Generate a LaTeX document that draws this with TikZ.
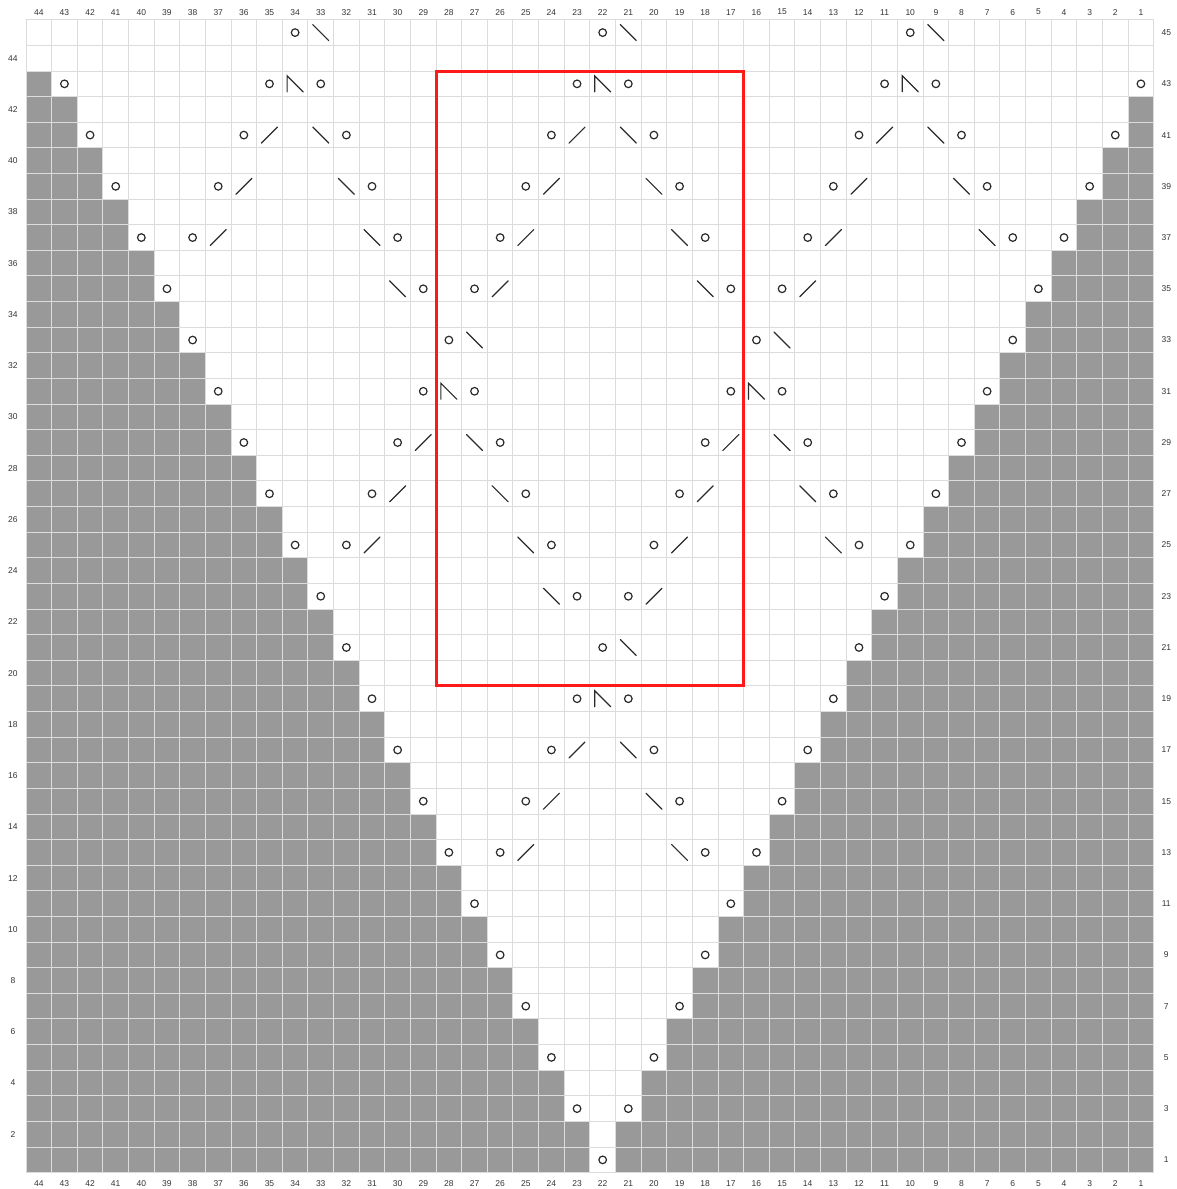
\documentclass[tikz,border=0pt]{standalone}
\usepackage{fontspec}
\setmainfont{Liberation Sans}
\definecolor{cellgray}{HTML}{999999}
\definecolor{gridline}{HTML}{DCDCDC}
\definecolor{ink}{HTML}{2A2A2A}
\definecolor{labelc}{HTML}{333333}
\definecolor{boxred}{HTML}{FF1A1A}
\tikzset{
  yo/.style={circle, draw=ink, line width=1.2pt, minimum size=7.6pt, inner sep=0pt},
  sym/.style={draw=ink, line width=1.2pt, line cap=round},
  lab/.style={text=labelc, font=\fontsize{8.5}{10}\selectfont, inner sep=0pt},
  gridst/.style={draw=gridline, line width=1pt},
  redbox/.style={draw=boxred, line width=3pt}
}
\begin{document}
\begin{tikzpicture}[x=1pt,y=1pt]
\useasboundingbox (0,0) rectangle (1176,1189);
\begin{scope}[shift={(26pt,16.3pt)}, x=25.63pt, y=25.62pt]
  % grey (no stitch) cells
  \foreach \r in {1,...,43}{
    \pgfmathtruncatemacro\k{(\r-1)/2}
    \pgfmathtruncatemacro\lw{22-\k}
    \pgfmathtruncatemacro\rs{23+\k}
    \fill[cellgray] (0,\r-1) rectangle (\lw,\r);
    \ifnum\rs<44 \fill[cellgray] (\rs,\r-1) rectangle (44,\r); \fi
  }
  % grid
  \foreach \i in {0,...,44}{\draw[gridst] (\i,0) -- (\i,45);}
  \foreach \j in {0,...,45}{\draw[gridst] (0,\j) -- (44,\j);}
  % yarn overs
  \foreach \r/\cs in {
    1/{22}, 3/{23,21}, 5/{24,20}, 7/{25,19}, 9/{26,18}, 11/{27,17},
    13/{28,26,18,16}, 15/{29,25,19,15}, 17/{30,24,20,14},
    19/{31,23,21,13}, 21/{32,22,12}, 23/{33,23,21,11},
    25/{34,32,24,20,12,10}, 27/{35,31,25,19,13,9}, 29/{36,30,26,18,14,8},
    31/{37,29,27,17,15,7}, 33/{38,28,16,6}, 35/{39,29,27,17,15,5},
    37/{40,38,30,26,18,14,6,4}, 39/{41,37,31,25,19,13,7,3},
    41/{42,36,32,24,20,12,8,2}, 43/{43,35,33,23,21,11,9,1},
    45/{34,22,10}}{
    \foreach \c in \cs {\node[yo] (yo-\r-\c) at ({44.5-\c},{\r-0.5}) {};}
  }
  % k2tog  /
  \foreach \r/\cs in {
    13/{25}, 15/{24}, 17/{23}, 23/{20}, 25/{31,19}, 27/{30,18}, 29/{29,17},
    35/{26,14}, 37/{37,25,13}, 39/{36,24,12}, 41/{35,23,11}}{
    \foreach \c in \cs {\draw[sym] ({44.5-\c},{\r-0.5}) ++(-8pt,-8pt) -- ++(16pt,16pt);}
  }
  % ssk  \
  \foreach \r/\cs in {
    13/{19}, 15/{20}, 17/{21}, 21/{21}, 23/{24}, 25/{25,13}, 27/{26,14},
    29/{27,15}, 33/{27,15}, 35/{30,18}, 37/{31,19,7}, 39/{32,20,8},
    41/{33,21,9}, 45/{33,21,9}}{
    \foreach \c in \cs {\draw[sym] ({44.5-\c},{\r-0.5}) ++(-8pt,8pt) -- ++(16pt,-16pt);}
  }
  % double decrease
  \foreach \r/\cs in {19/{22}, 31/{28,16}, 43/{34,22,10}}{
    \foreach \c in \cs {\draw[sym, line join=miter] ({44.5-\c},{\r-0.5}) ++(-8pt,-8pt) -- ++(0pt,16pt) -- ++(16pt,-16pt);}
  }
  % labels
  \foreach \c in {1,...,44}{
    \node[lab] (ct-\c) at ({44.5-\c},45.3) {\c};
    \node[lab] (cb-\c) at ({44.5-\c},-0.42) {\c};
  }
  \foreach \r in {2,4,...,44}{\node[lab] (rl-\r) at (-0.51,{\r-0.5}) {\r};}
  \foreach \r in {1,3,...,45}{\node[lab] (rr-\r) at (44.49,{\r-0.5}) {\r};}
  % red frame
  \draw[redbox] (16,19) rectangle (28,43);
\end{scope}
\end{tikzpicture}
\end{document}
